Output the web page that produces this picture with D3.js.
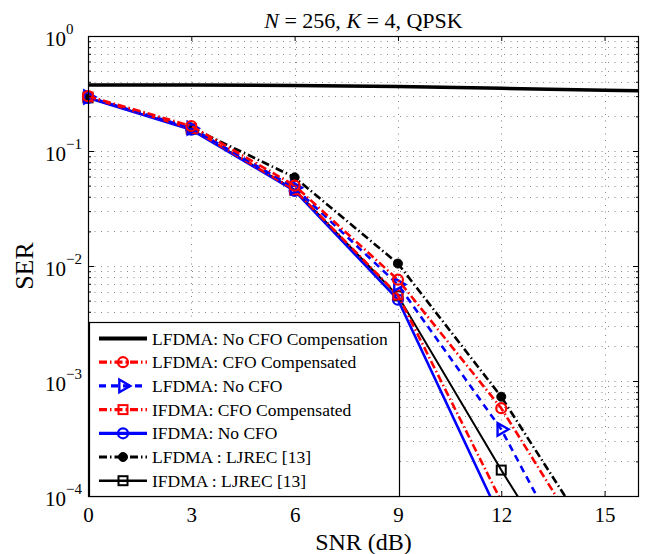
<!DOCTYPE html>
<html>
<head>
<meta charset="utf-8">
<script src="https://cdn.jsdelivr.net/npm/d3@7"></script>
<style>
    body { margin: 0; background: #fff; }
    text { font-family: "Liberation Serif", "Times New Roman", serif; }
</style>
</head>
<body>
<div id="chart"></div>
<script>
// values (SER vs SNR in dB)
const snr = [0, 3, 6, 9, 12, 15];
const snrNoComp = [0, 3, 6, 9, 12, 15, 18];

const serLfdmaNoComp = [0.375, 0.374, 0.371, 0.364, 0.351, 0.338, 0.326];
const serLfdmaComp = [0.300, 0.165, 0.050, 0.0076, 5.8e-4, 2.1e-5];
const serLfdmaNoCfo = [0.295, 0.158, 0.048, 0.0069, 3.8e-4, 7.8e-6];
const serIfdmaComp = [0.295, 0.157, 0.046, 0.0056, 9.0e-5, 1.4e-6];
const serIfdmaNoCfo = [0.290, 0.153, 0.045, 0.0051, 6.2e-5, 8.0e-7];
const serLfdmaLjrec = [0.295, 0.160, 0.059, 0.0105, 7.3e-4, 2.9e-5];
const serIfdmaLjrec = [0.290, 0.155, 0.046, 0.0055, 1.68e-4, 6.2e-6];

const legendLabels = [
    "LFDMA: No CFO Compensation",
    "LFDMA: CFO Compensated",
    "LFDMA: No CFO",
    "IFDMA: CFO Compensated",
    "IFDMA: No CFO",
    "LFDMA : LJREC [13]",
    "IFDMA : LJREC [13]"
];

const xTicks = [0, 3, 6, 9, 12, 15];
const yExponents = [0, -1, -2, -3, -4];

// set the dimensions of the graph
const W = 651, H = 554;
const plot = { left: 88, right: 639, top: 36, bottom: 496 };

const DASHDOT = "8,3,1.5,3";
const DASHED = "7,5";

// series table (data + style)
const series = [
    { x: snrNoComp, y: serLfdmaNoComp, color: "#000", width: 3.5, dash: null, marker: null },
    { x: snr, y: serLfdmaComp, color: "#ff0000", width: 2.6, dash: DASHDOT, marker: "circle" },
    { x: snr, y: serLfdmaNoCfo, color: "#0000ff", width: 2.6, dash: DASHED, marker: "triangle" },
    { x: snr, y: serIfdmaComp, color: "#ff0000", width: 2.6, dash: DASHDOT, marker: "square" },
    { x: snr, y: serIfdmaNoCfo, color: "#0000ff", width: 2.6, dash: null, marker: "circle" },
    { x: snr, y: serLfdmaLjrec, color: "#000", width: 2.6, dash: DASHDOT, marker: "dot" },
    { x: snr, y: serIfdmaLjrec, color: "#000", width: 2.0, dash: null, marker: "square" }
];
series.forEach(function (s, i) { s.label = legendLabels[i]; });

const svg = d3.select("#chart").append("svg")
    .attr("width", W)
    .attr("height", H);

const x = d3.scaleLinear().domain([0, 16]).range([plot.left, plot.right]);
const y = d3.scaleLog().domain([1e-4, 1]).range([plot.bottom, plot.top]);

const majorY = yExponents.map(function (e) { return Math.pow(10, e); });
var minorY = [];
for (var e = -4; e < 0; e++) {
    for (var k = 2; k <= 9; k++) minorY.push(k * Math.pow(10, e));
}

// grid (dotted)
const grid = svg.append("g")
    .attr("stroke", "#555")
    .attr("stroke-width", 0.7)
    .attr("stroke-dasharray", "1,5.5");

grid.selectAll(".hgrid")
    .data(majorY.concat(minorY).filter(function (v) { return v > 1e-4 && v < 1; }))
    .join("line")
    .attr("x1", plot.left).attr("x2", plot.right)
    .attr("y1", function (d) { return Math.round(y(d)) + 0.5; })
    .attr("y2", function (d) { return Math.round(y(d)) + 0.5; });

grid.selectAll(".vgrid")
    .data(xTicks.filter(function (v) { return v > 0; }))
    .join("line")
    .attr("y1", plot.top).attr("y2", plot.bottom)
    .attr("x1", function (d) { return Math.round(x(d)) + 0.5; })
    .attr("x2", function (d) { return Math.round(x(d)) + 0.5; });

// clip for the lines
svg.append("clipPath").attr("id", "plotclip")
    .append("rect")
    .attr("x", plot.left).attr("y", plot.top)
    .attr("width", plot.right - plot.left)
    .attr("height", plot.bottom - plot.top);

const line = d3.line()
    .x(function (d) { return x(d[0]); })
    .y(function (d) { return y(d[1]); });

function drawMarker(g, type, cx, cy, color) {
    if (type === "circle") {
        g.append("circle").attr("cx", cx).attr("cy", cy).attr("r", 5)
            .attr("fill", "none").attr("stroke", color).attr("stroke-width", 2.2);
    } else if (type === "square") {
        g.append("rect").attr("x", cx - 4.5).attr("y", cy - 4.5)
            .attr("width", 9).attr("height", 9)
            .attr("fill", "none").attr("stroke", color).attr("stroke-width", 2);
    } else if (type === "triangle") {
        g.append("path")
            .attr("d", d3.symbol().type(d3.symbolTriangle).size(70)())
            .attr("transform", "translate(" + cx + "," + cy + ") rotate(90)")
            .attr("fill", "none").attr("stroke", color).attr("stroke-width", 2.4);
    } else if (type === "dot") {
        g.append("circle").attr("cx", cx).attr("cy", cy).attr("r", 4.5)
            .attr("fill", color).attr("stroke", color).attr("stroke-width", 1);
    }
}

// draw the lines, last series first so the legend order sits on top like matlab
const lines = svg.append("g");
series.slice().reverse().forEach(function (s) {
    var pts = s.x.map(function (v, i) { return [v, s.y[i]]; });
    lines.append("path")
        .datum(pts)
        .attr("clip-path", "url(#plotclip)")
        .attr("fill", "none")
        .attr("stroke", s.color)
        .attr("stroke-width", s.width)
        .attr("stroke-dasharray", s.dash)
        .attr("d", line);
    if (s.marker) {
        var mg = lines.append("g");
        pts.forEach(function (p) {
            // matlab only draws markers that are inside the limits
            if (p[1] >= 1e-4 && p[0] <= 16) drawMarker(mg, s.marker, x(p[0]), y(p[1]), s.color);
        });
    }
});

// axes: ticks inward on all four sides
function styleAxis(g) {
    g.select(".domain").remove();
    g.selectAll(".tick line").attr("stroke", "#000").attr("stroke-width", 1);
}

svg.append("g")
    .attr("transform", "translate(0," + plot.bottom + ")")
    .call(d3.axisBottom(x).tickValues(xTicks).tickSize(-5).tickFormat(d3.format("d")))
    .call(styleAxis)
    .call(function (g) {
        g.selectAll(".tick text")
            .attr("font-family", "Liberation Serif, Times New Roman, serif")
            .attr("font-size", 21)
            .attr("fill", "#000")
            .attr("dy", null)
            .attr("y", 26);
    });

svg.append("g")
    .attr("transform", "translate(0," + plot.top + ")")
    .call(d3.axisTop(x).tickValues(xTicks).tickSize(-5).tickFormat(""))
    .call(styleAxis);

svg.append("g")
    .attr("transform", "translate(" + plot.left + ",0)")
    .call(d3.axisLeft(y).tickValues(majorY).tickSize(-6).tickFormat(""))
    .call(styleAxis)
    .call(function (g) {
        g.selectAll(".tick").each(function (d) {
            var t = d3.select(this).append("text")
                .attr("x", -43)
                .attr("y", 9)
                .attr("fill", "#000")
                .attr("font-size", 21)
                .attr("text-anchor", "start");
            t.append("tspan").text("10");
            var ex = Math.round(Math.log10(d));
            t.append("tspan")
                .attr("font-size", 15)
                .attr("dy", -12)
                .text(ex === 0 ? "0" : "\u2212" + Math.abs(ex));
        });
    });

svg.append("g")
    .attr("transform", "translate(" + plot.left + ",0)")
    .call(d3.axisLeft(y).tickValues(minorY).tickSize(-3).tickFormat(""))
    .call(styleAxis);

svg.append("g")
    .attr("transform", "translate(" + plot.right + ",0)")
    .call(d3.axisRight(y).tickValues(majorY).tickSize(-6).tickFormat(""))
    .call(styleAxis);

svg.append("g")
    .attr("transform", "translate(" + plot.right + ",0)")
    .call(d3.axisRight(y).tickValues(minorY).tickSize(-3).tickFormat(""))
    .call(styleAxis);

// box
svg.append("rect")
    .attr("x", plot.left + 0.5).attr("y", plot.top + 0.5)
    .attr("width", plot.right - plot.left - 1)
    .attr("height", plot.bottom - plot.top)
    .attr("fill", "none")
    .attr("stroke", "#000")
    .attr("stroke-width", 1.2);

// labels
svg.append("text")
    .attr("x", (plot.left + plot.right) / 2)
    .attr("y", 550)
    .attr("text-anchor", "middle")
    .attr("font-size", 24)
    .text("SNR (dB)");

svg.append("text")
    .attr("transform", "translate(33," + ((plot.top + plot.bottom) / 2) + ") rotate(-90)")
    .attr("text-anchor", "middle")
    .attr("font-size", 26)
    .text("SER");

const title = svg.append("text")
    .attr("x", (plot.left + plot.right) / 2)
    .attr("y", 28)
    .attr("text-anchor", "middle")
    .attr("font-size", 22);
title.append("tspan").attr("font-style", "italic").text("N");
title.append("tspan").text(" = 256, ");
title.append("tspan").attr("font-style", "italic").text("K");
title.append("tspan").text(" = 4, QPSK");

// legend
const leg = { left: 89, top: 322, right: 399, bottom: 496, rowH: 23.7, first: 338.5 };
const legend = svg.append("g");
legend.append("rect")
    .attr("x", leg.left + 0.5).attr("y", leg.top + 0.5)
    .attr("width", leg.right - leg.left)
    .attr("height", leg.bottom - leg.top)
    .attr("fill", "#fff")
    .attr("stroke", "#000")
    .attr("stroke-width", 1.2);

series.forEach(function (s, i) {
    var cy = leg.first + i * leg.rowH;
    legend.append("line")
        .attr("x1", 99).attr("x2", 147)
        .attr("y1", cy).attr("y2", cy)
        .attr("stroke", s.color)
        .attr("stroke-width", s.width + 0.6)
        .attr("stroke-dasharray", s.dash);
    if (s.marker) drawMarker(legend, s.marker, 123, cy, s.color);
    legend.append("text")
        .attr("x", 152)
        .attr("y", cy + 6)
        .attr("font-size", 17.5)
        .text(s.label);
});
</script>
</body>
</html>
